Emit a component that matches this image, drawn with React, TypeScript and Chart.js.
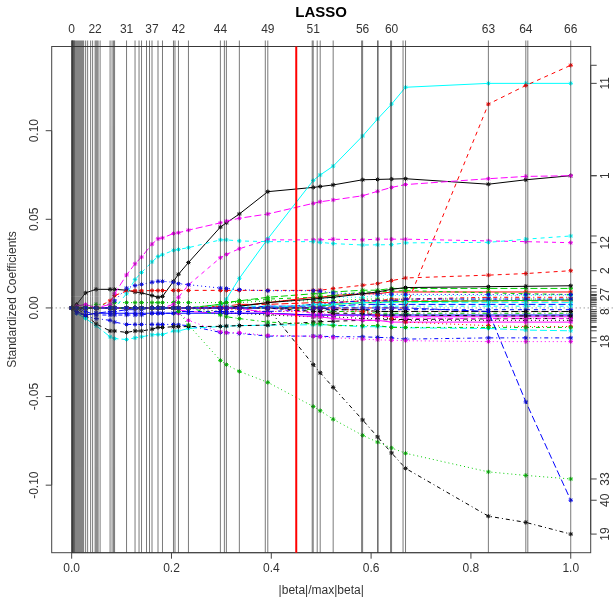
import React, { useEffect, useRef } from "react";
import { Chart, registerables } from "chart.js";

Chart.register(...registerables);

const TITLE = "LASSO";
const X_LABEL = "|beta|/max|beta|";
const Y_LABEL = "Standardized Coefficients";

// |beta|/max|beta| at each LARS/LASSO step (67 steps: 0..66)
const STEP_FRACTIONS = [
  0, 0.0005, 0.001, 0.0015, 0.002, 0.003, 0.004, 0.005, 0.006, 0.008,
  0.010, 0.012, 0.014, 0.016, 0.018, 0.020, 0.022, 0.024, 0.028, 0.032,
  0.038, 0.042, 0.047, 0.049, 0.051, 0.053, 0.057, 0.077, 0.081, 0.084,
  0.086, 0.110, 0.127, 0.135, 0.140, 0.150, 0.156, 0.161, 0.173, 0.182,
  0.204, 0.207, 0.214, 0.234, 0.298, 0.306, 0.310, 0.336, 0.388, 0.393,
  0.482, 0.484, 0.492, 0.498, 0.524, 0.581, 0.583, 0.613, 0.614, 0.639,
  0.641, 0.664, 0.669, 0.835, 0.910, 0.914, 1.0,
];
const TOP_LABELED_STEPS = [0, 22, 31, 37, 42, 44, 49, 51, 56, 60, 63, 64, 66];
// steps at which the coefficients below were read
const KEY_STEPS = [0, 10, 18, 23, 27, 30, 31, 32, 34, 37, 38, 39, 40, 42, 43, 44, 46, 47, 49, 51, 53, 54, 56, 57, 60, 62, 63, 64, 66];
const SELECTED_FRACTION = 0.45;
const X_TICKS = [0, 0.2, 0.4, 0.6, 0.8, 1.0];
const Y_TICKS = [-0.1, -0.05, 0, 0.05, 0.1];
const RIGHT_LABELED = [11, 1, 12, 2, 27, 8, 18, 33, 40, 19];

const COEF_1 = [0, 0.002, 0.0085, 0.0105, 0.0105, 0.0105, 0.010, 0.009, 0.0085, 0.007, 0.006, 0.0065, 0.015, 0.019, 0.0256, 0.0456, 0.048, 0.053, 0.0656, 0.068, 0.0685, 0.0694, 0.0723, 0.0725, 0.0727, 0.0729, 0.0698, 0.0723, 0.0746];
const COEF_2 = [0, 0, 0, 0, 0.004, 0.007, 0.0095, 0.0097, 0.0097, 0.0098, 0.0098, 0.0098, 0.0099, 0.0099, 0.0099, 0.0099, 0.0099, 0.0099, 0.0099, 0.0099, 0.0100, 0.0109, 0.0128, 0.0137, 0.0154, 0.0169, 0.0185, 0.0194, 0.021];
const COEF_3 = [0, 0, 0.001, 0.002, 0.002, 0.003, 0.003, 0.003, 0.003, 0.003, 0.003, 0.003, 0.003, 0.003, 0.003, 0.003, 0.003, 0.003, 0.004, 0.004, 0.004, 0.004, 0.005, 0.005, 0.005, 0.005, 0.005, 0.005, 0.005];
const COEF_4 = [0, -0.002, -0.005, -0.006, -0.007, -0.008, -0.0093, -0.0093, -0.0093, -0.0093, -0.0093, -0.0093, -0.0093, -0.0095, -0.010, -0.0138, -0.014, -0.0144, -0.0159, -0.0159, -0.016, -0.0162, -0.0163, -0.0166, -0.0169, -0.0176, -0.0169, -0.0169, -0.0169];
const COEF_5 = [0, -0.003, -0.006, -0.010, -0.0163, -0.0173, -0.0178, -0.0169, -0.0163, -0.0152, -0.015, -0.015, -0.013, -0.013, -0.0116, -0.0105, -0.0103, -0.010, -0.0097, -0.0095, -0.0095, -0.0096, -0.0106, -0.0106, -0.0106, -0.0112, -0.0116, -0.0125, -0.0129];
const COEF_6 = [0, 0, 0, 0, 0, 0, 0, 0, 0, 0, 0, 0, 0, -0.001, -0.002, -0.003, -0.003, -0.003, -0.003, -0.004, -0.004, -0.004, -0.004, -0.004, -0.005, -0.005, -0.005, -0.005, -0.005];
const COEF_7 = [0, 0, -0.004, -0.009, -0.013, -0.013, -0.0138, -0.013, -0.013, -0.012, -0.011, -0.011, -0.0106, -0.0106, -0.0105, -0.0104, -0.0102, -0.010, -0.0097, -0.008, -0.0078, -0.0075, -0.007, -0.0068, -0.0066, -0.0065, -0.0062, -0.006, -0.006];
const COEF_8 = [0, 0, 0, 0, 0, 0, 0, 0, 0, 0, 0, 0, 0, 0, 0, 0, -0.001, -0.001, -0.002, -0.002, -0.002, -0.002, -0.002, -0.002, -0.002, -0.002, -0.0021, -0.0021, -0.0021];
const COEF_9 = [0, 0, 0, 0, 0, 0, 0, 0, 0, 0, 0, 0, 0, 0, 0, 0, 0, 0, 0, -0.001, -0.001, -0.002, -0.002, -0.003, -0.003, -0.003, -0.003, -0.003, -0.003];
const COEF_10 = [0, -0.003, -0.004, -0.003, -0.002, -0.002, -0.001, -0.001, -0.001, 0, 0, 0, 0, 0, 0, 0, 0, 0, 0.001, 0.001, 0.001, 0.001, 0.002, 0.002, 0.002, 0.002, 0.002, 0.002, 0.002];
const COEF_11 = [0, 0, 0, 0, 0, 0, 0, 0, 0, 0, 0, 0, 0, 0, 0, 0, 0.005, 0.0167, 0.039, 0.0719, 0.075, 0.080, 0.097, 0.1066, 0.115, 0.1245, 0.1267, 0.1267, 0.1267];
const COEF_12 = [0, 0, 0, 0, 0, 0, 0, 0, 0, 0, 0, 0, 0.002, 0.006, 0.013, 0.0283, 0.0302, 0.0334, 0.0384, 0.0384, 0.0384, 0.0388, 0.0384, 0.0388, 0.0388, 0.0388, 0.0378, 0.0374, 0.0368];
const COEF_13 = [0, 0, 0, 0, 0, 0, 0, 0, 0, 0, 0, 0, 0, 0, 0, -0.002, -0.003, -0.003, -0.004, -0.005, -0.005, -0.005, -0.006, -0.006, -0.006, -0.007, -0.007, -0.007, -0.007];
const COEF_14 = [0, 0, 0, 0, 0, 0, 0, 0, 0, 0, 0, 0, 0, 0, 0, 0, 0, 0, 0, 0.002, 0.002, 0.003, 0.004, 0.004, 0.005, 0.005, 0.006, 0.006, 0.006];
const COEF_15 = [0, 0, 0, 0, 0, 0, 0, 0, 0, 0, 0, 0, 0, 0, 0, 0.002, 0.003, 0.004, 0.006, 0.008, 0.008, 0.009, 0.010, 0.010, 0.011, 0.011, 0.011, 0.011, 0.011];
const COEF_16 = [0, -0.002, -0.004, -0.003, -0.003, -0.003, -0.003, -0.003, -0.003, -0.003, -0.003, -0.003, -0.003, -0.003, -0.003, -0.003, -0.003, -0.003, -0.003, -0.004, -0.004, -0.004, -0.004, -0.004, -0.004, -0.004, -0.004, -0.004, -0.004];
const COEF_17 = [0, 0, 0, 0, 0, 0, 0.008, 0.016, 0.020, 0.026, 0.029, 0.030, 0.0325, 0.033, 0.034, 0.0384, 0.0384, 0.0378, 0.0374, 0.0374, 0.037, 0.0363, 0.0355, 0.0356, 0.0357, 0.0367, 0.037, 0.0388, 0.0406];
const COEF_18 = [0, 0, 0, 0, 0, 0, 0, 0, 0, 0, 0, 0, 0, -0.003, -0.007, -0.0135, -0.014, -0.014, -0.0155, -0.016, -0.0163, -0.0168, -0.0176, -0.018, -0.0182, -0.0185, -0.019, -0.019, -0.019];
const COEF_19 = [0, 0, 0, 0, 0, 0, 0, 0, 0, 0, 0, 0, 0, 0, 0, 0, 0, 0, 0, -0.032, -0.0366, -0.0448, -0.0632, -0.0728, -0.0818, -0.0905, -0.1175, -0.121, -0.1276];
const COEF_20 = [0, 0, 0, 0, 0, 0, 0, 0, 0, 0, 0, 0, 0, 0, 0, 0.001, 0.001, 0.002, 0.002, 0.003, 0.003, 0.003, 0.004, 0.004, 0.004, 0.004, 0.004, 0.004, 0.004];
const COEF_21 = [0, 0, 0, 0, 0, 0, 0, 0, 0, 0, 0, 0, 0, 0, 0, 0, 0, 0, 0, 0, 0.001, 0.002, 0.003, 0.003, 0.0035, 0.0035, 0.004, 0.0042, 0.0045];
const COEF_22 = [0, 0, -0.002, -0.004, -0.004, -0.004, -0.004, -0.004, -0.004, -0.003, -0.003, -0.003, -0.003, -0.002, -0.002, -0.002, -0.002, -0.002, -0.002, -0.001, -0.001, -0.001, -0.001, -0.001, -0.001, -0.001, -0.001, -0.001, -0.001];
const COEF_23 = [0, 0, 0, 0, 0, 0, 0, 0, 0, 0, 0, 0, 0, 0, 0, 0, 0, 0, 0.003, 0.005, 0.005, 0.006, 0.006, 0.007, 0.007, 0.007, 0.007, 0.007, 0.007];
const COEF_24 = [0, 0, 0, 0, 0, 0, 0, 0, 0, 0, 0, 0, 0, 0, 0, 0, 0, 0, 0, -0.003, -0.003, -0.004, -0.005, -0.005, -0.005, -0.006, -0.006, -0.006, -0.006];
const COEF_25 = [0, 0, 0, 0, 0, 0, 0, 0, 0, 0, 0, 0, 0, 0, 0, 0, 0, 0, 0, 0, 0, -0.001, -0.001, -0.002, -0.002, -0.002, -0.002, -0.002, -0.002];
const COEF_26 = [0, 0, 0, 0, 0, 0, 0, 0, 0, 0, 0, 0, 0, 0, 0, 0, 0, 0.001, 0.003, 0.006, 0.006, 0.007, 0.008, 0.008, 0.009, 0.009, 0.009, 0.009, 0.009];
const COEF_27 = [0, 0, 0, 0, 0, 0, 0, 0, 0, 0, 0, 0, 0, 0, 0, 0.002, 0.003, 0.004, 0.005, 0.006, 0.0065, 0.007, 0.009, 0.009, 0.0095, 0.0098, 0.0085, 0.008, 0.0076];
const COEF_28 = [0, 0, 0, 0, 0, 0.004, 0.0112, 0.0126, 0.0133, 0.0145, 0.015, 0.015, 0.0145, 0.0137, 0.0131, 0.0112, 0.011, 0.0103, 0.0097, 0.0097, 0.0095, 0.0084, 0.008, 0.0078, 0.0078, 0.0077, 0.0075, 0.0075, 0.0075];
const COEF_29 = [0, 0, 0, 0, 0, 0, 0, 0, 0, 0, 0, 0, 0, 0, 0, 0.001, 0.001, 0.001, 0.001, 0.001, 0.001, 0.001, 0.001, 0.001, 0.001, 0.001, 0.001, 0.001, 0.001];
const COEF_30 = [0, 0, 0, 0, 0.002, 0.008, 0.0186, 0.0249, 0.0287, 0.036, 0.039, 0.0395, 0.042, 0.0424, 0.0439, 0.048, 0.049, 0.0506, 0.053, 0.059, 0.0599, 0.0609, 0.0633, 0.0658, 0.068, 0.0696, 0.0729, 0.0742, 0.0746];
const COEF_31 = [0, 0, 0, 0, 0, 0, 0, 0, 0, 0, 0, 0, 0, 0, 0, 0, 0, 0.001, 0.003, 0.005, 0.0055, 0.006, 0.008, 0.009, 0.0105, 0.0115, 0.012, 0.0122, 0.0125];
const COEF_32 = [0, 0, 0, 0, 0, 0, 0, 0, 0, 0, 0, 0, 0, 0, 0, 0, 0, 0, 0, 0, 0, 0, 0, 0, 0, 0, 0.115, 0.1255, 0.1369];
const COEF_33 = [0, 0, 0, 0, 0, 0, 0, 0, 0, 0, 0, 0, 0, -0.002, -0.0096, -0.0296, -0.032, -0.0358, -0.042, -0.0556, -0.058, -0.0628, -0.0719, -0.0757, -0.079, -0.082, -0.0925, -0.0945, -0.0965];
const COEF_34 = [0, 0, 0, 0, 0, 0, 0, 0, 0, 0, 0, 0, 0, 0, 0, 0, 0, 0, 0, 0.002, 0.002, 0.003, 0.004, 0.004, 0.004, 0.005, 0.005, 0.005, 0.005];
const COEF_35 = [0, 0, 0, 0, 0, 0, 0, 0, 0, 0, 0, 0, 0, 0, 0, 0, 0, 0, 0, 0.002, 0.002, 0.002, 0.003, 0.003, 0.003, 0.003, 0.003, 0.003, 0.003];
const COEF_36 = [0, 0.001, 0.002, 0, 0, 0, 0, 0, 0, 0, 0, 0, 0, 0, 0, 0, 0, 0, -0.003, -0.005, -0.005, -0.006, -0.007, -0.007, -0.008, -0.008, -0.008, -0.008, -0.008];
const COEF_37 = [0, 0, 0, 0, 0, 0, 0, 0, 0, 0, 0, 0, 0, 0, 0, 0, 0, 0, 0, -0.002, -0.002, -0.003, -0.003, -0.004, -0.004, -0.004, -0.0045, -0.0045, -0.0045];
const COEF_38 = [0, 0, 0, 0, 0, 0, 0, 0, 0, 0, 0, 0, 0, 0, 0, 0, 0, 0, 0, 0, 0, 0, -0.002, -0.004, -0.006, -0.008, -0.010, -0.0105, -0.0105];
const COEF_39 = [0, 0, 0, 0, 0, 0, 0, 0, 0, 0, 0, 0, 0, 0, 0, -0.004, -0.005, -0.006, -0.008, -0.009, -0.009, -0.010, -0.010, -0.010, -0.011, -0.011, -0.011, -0.011, -0.011];
const COEF_40 = [0, 0, 0, 0, 0, 0, 0, 0, 0, 0, 0, 0, 0, 0, 0, 0, 0, 0, 0, 0, 0, 0, 0, 0, 0, 0, -0.002, -0.053, -0.1085];

const COEFS = [
  COEF_1, COEF_2, COEF_3, COEF_4, COEF_5, COEF_6, COEF_7, COEF_8, COEF_9, COEF_10,
  COEF_11, COEF_12, COEF_13, COEF_14, COEF_15, COEF_16, COEF_17, COEF_18, COEF_19, COEF_20,
  COEF_21, COEF_22, COEF_23, COEF_24, COEF_25, COEF_26, COEF_27, COEF_28, COEF_29, COEF_30,
  COEF_31, COEF_32, COEF_33, COEF_34, COEF_35, COEF_36, COEF_37, COEF_38, COEF_39, COEF_40,
];

// R default matplot styling
const PALETTE = ["#000000", "#FF0000", "#00CD00", "#0000FF", "#00FFFF", "#FF00FF"];
const DASHES: number[][] = [[], [4, 4], [1, 3], [1, 3, 4, 3], [7, 3]];

const W = 613;
const H = 599;
const BOX = { left: 51.7, right: 590.7, top: 46.5, bottom: 552.7 };
const FONT = '"Liberation Sans", Arial, Helvetica, sans-serif';

const rPlot = {
  id: "rplot",
  afterDatasetsDraw(chart: any) {
    const { ctx, chartArea: a, scales } = chart;
    const xs = scales.x;
    const ys = scales.y;
    ctx.save();

    // horizontal zero line (dotted)
    const y0 = ys.getPixelForValue(0);
    ctx.strokeStyle = "#777";
    ctx.lineWidth = 1;
    ctx.setLineDash([1, 3]);
    ctx.beginPath();
    ctx.moveTo(a.left, y0);
    ctx.lineTo(W, y0);
    ctx.stroke();
    ctx.setLineDash([]);

    // box
    ctx.strokeStyle = "#444";
    ctx.lineWidth = 1;
    ctx.strokeRect(a.left, a.top, a.right - a.left, a.bottom - a.top);

    ctx.fillStyle = "#333";
    ctx.font = `12px ${FONT}`;

    // left axis
    ctx.strokeStyle = "#444";
    ctx.beginPath();
    ctx.moveTo(a.left, ys.getPixelForValue(Y_TICKS[0]));
    ctx.lineTo(a.left, ys.getPixelForValue(Y_TICKS[Y_TICKS.length - 1]));
    ctx.stroke();
    Y_TICKS.forEach((v) => {
      const py = ys.getPixelForValue(v);
      ctx.beginPath();
      ctx.moveTo(a.left, py);
      ctx.lineTo(a.left - 6, py);
      ctx.stroke();
      ctx.save();
      ctx.translate(35, py);
      ctx.rotate(-Math.PI / 2);
      ctx.textAlign = "center";
      ctx.textBaseline = "middle";
      ctx.fillText(v.toFixed(2), 0, 0);
      ctx.restore();
    });

    // bottom axis
    ctx.beginPath();
    ctx.moveTo(xs.getPixelForValue(X_TICKS[0]), a.bottom);
    ctx.lineTo(xs.getPixelForValue(X_TICKS[X_TICKS.length - 1]), a.bottom);
    ctx.stroke();
    ctx.textAlign = "center";
    ctx.textBaseline = "middle";
    X_TICKS.forEach((v) => {
      const px = xs.getPixelForValue(v);
      ctx.beginPath();
      ctx.moveTo(px, a.bottom);
      ctx.lineTo(px, a.bottom + 6);
      ctx.stroke();
      ctx.fillText(v.toFixed(1), px, 569);
    });

    // right axis: final coefficients
    const finals = COEFS.map((c) => c[c.length - 1]);
    const ymin = Math.min(...finals);
    const ymax = Math.max(...finals);
    ctx.beginPath();
    ctx.moveTo(a.right, ys.getPixelForValue(ymin));
    ctx.lineTo(a.right, ys.getPixelForValue(ymax));
    ctx.stroke();
    finals.forEach((v) => {
      const py = ys.getPixelForValue(v);
      ctx.beginPath();
      ctx.moveTo(a.right, py);
      ctx.lineTo(a.right + 6, py);
      ctx.stroke();
    });
    RIGHT_LABELED.forEach((id) => {
      const py = ys.getPixelForValue(finals[id - 1]);
      ctx.save();
      ctx.translate(606, py);
      ctx.rotate(-Math.PI / 2);
      ctx.textAlign = "center";
      ctx.textBaseline = "middle";
      ctx.fillText(String(id), 0, 0);
      ctx.restore();
    });

    // top axis (step numbers) and vertical step lines
    ctx.strokeStyle = "rgba(50,50,50,0.65)";
    ctx.beginPath();
    ctx.moveTo(xs.getPixelForValue(STEP_FRACTIONS[0]), a.top);
    ctx.lineTo(xs.getPixelForValue(STEP_FRACTIONS[STEP_FRACTIONS.length - 1]), a.top);
    ctx.stroke();
    STEP_FRACTIONS.forEach((s) => {
      const px = xs.getPixelForValue(s);
      ctx.beginPath();
      ctx.moveTo(px, a.top - 6);
      ctx.lineTo(px, a.bottom);
      ctx.stroke();
    });
    ctx.textAlign = "center";
    ctx.textBaseline = "middle";
    TOP_LABELED_STEPS.forEach((k) => {
      ctx.fillText(String(k), xs.getPixelForValue(STEP_FRACTIONS[k]), 30);
    });

    // selected fraction
    ctx.strokeStyle = "#FF0000";
    ctx.lineWidth = 2;
    const pr = xs.getPixelForValue(SELECTED_FRACTION);
    ctx.beginPath();
    ctx.moveTo(pr, a.top);
    ctx.lineTo(pr, a.bottom);
    ctx.stroke();

    // titles
    ctx.fillStyle = "#000";
    ctx.font = `bold 15px ${FONT}`;
    ctx.fillText(TITLE, (a.left + a.right) / 2, 13);
    ctx.fillStyle = "#333";
    ctx.font = `12px ${FONT}`;
    ctx.fillText(X_LABEL, (a.left + a.right) / 2, 591);
    ctx.save();
    ctx.translate(12.5, (a.top + a.bottom) / 2);
    ctx.rotate(-Math.PI / 2);
    ctx.fillText(Y_LABEL, 0, 0);
    ctx.restore();

    ctx.restore();
  },
};

export default function App() {
  const ref = useRef<HTMLCanvasElement | null>(null);
  useEffect(() => {
    if (!ref.current) return;
    const datasets = COEFS.map((vals, j) => {
      const color = PALETTE[j % 6];
      return {
        label: String(j + 1),
        data: KEY_STEPS.map((s, i) => ({ x: STEP_FRACTIONS[s], y: vals[i] })),
        showLine: true,
        borderColor: color,
        backgroundColor: color,
        borderWidth: 1,
        borderDash: DASHES[j % 5],
        pointStyle: "star",
        pointRadius: 2.2,
        pointBorderWidth: 1,
        pointBorderColor: color,
        pointBackgroundColor: color,
        tension: 0,
        fill: false,
        order: 40 - j,
      };
    });
    const chart = new Chart(ref.current, {
      type: "scatter",
      data: { datasets },
      options: {
        responsive: false,
        devicePixelRatio: 1,
        animation: false,
        events: [],
        layout: {
          padding: { left: BOX.left, right: W - BOX.right, top: BOX.top, bottom: H - BOX.bottom },
        },
        plugins: { legend: { display: false }, tooltip: { enabled: false }, title: { display: false } },
        scales: {
          x: { type: "linear", min: -0.04, max: 1.04, display: false },
          y: { type: "linear", min: -0.1381, max: 0.1475, display: false },
        },
      },
      plugins: [rPlot],
    } as any);
    return () => chart.destroy();
  }, []);
  return (
    <div style={{ position: "absolute", left: 0, top: 0, width: W, height: H, background: "#fff" }}>
      <canvas ref={ref} width={W} height={H} style={{ display: "block" }} />
    </div>
  );
}
